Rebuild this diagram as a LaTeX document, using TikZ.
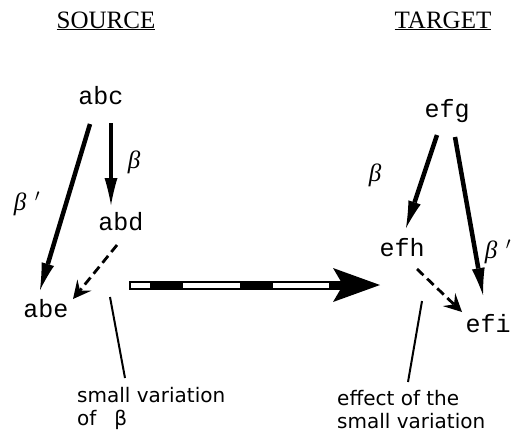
\documentclass[tikz,border=0pt]{standalone}
\usepackage{fontspec}
\setmainfont{Liberation Serif}
\setmonofont{Liberation Mono}
\setsansfont{DejaVu Sans}
\usepackage{tikz}
\usetikzlibrary{arrows.meta}
\tikzstyle{heading} = [font=\fontsize{25}{30}\selectfont, inner sep=0pt, anchor=base]
\tikzstyle{term} = [font=\ttfamily\fontsize{25}{30}\selectfont, inner sep=0pt, anchor=base]
\tikzstyle{remark} = [font=\sffamily\fontsize{20}{23}\selectfont, inner sep=0pt, anchor=north west, align=left]
\tikzstyle{greek} = [font=\itshape\fontsize{25}{28}\selectfont, inner sep=0pt]
\tikzstyle{map} = [line width=4.5pt, -{Latex[length=27pt,width=13pt,line width=0pt]}]
\tikzstyle{vary} = [line width=2.8pt, dash pattern=on 9pt off 5pt, -{Stealth[length=18pt,width=18pt,inset=7pt,line width=0pt]}]
\tikzstyle{pointer} = [line width=2pt]

\begin{document}
\begin{tikzpicture}[x=1pt, y=-1pt]
    \useasboundingbox (0,0) rectangle (514,432);

    % titles
    \node [heading] (source) at (106,28) {\underline{SOURCE}};
    \node [heading] (target) at (443,28) {\underline{TARGET}};

    % source side
    \node [term] (abc) at (101,104) {abc};
    \node [term] (abd) at (121,230) {abd};
    \node [term] (abe) at (46,317) {abe};
    \node [greek] (beta1) at (134,162) {β};
    \node [greek] (beta1p) at (27,204) {β\,\,$^{\prime}$};

    \draw [map] ([shift={(10,19)}]abc.base) -- ([shift={(-10,-25)}]abd.base);
    \draw [map] ([shift={(-11,20)}]abc.base) -- ([shift={(-6,-27)}]abe.base);
    \draw [vary] ([shift={(-4,15)}]abd.base) -- ([shift={(27,-18)}]abe.base);

    \node [remark] (smallvar) at (77,387) {small variation\\of\hspace{18pt}β};
    \coordinate (smallvartip) at (110,297);
    \draw [pointer] ([shift={(48,-9)}]smallvar.north west) -- (smallvartip);

    % target side
    \node [term] (efg) at (447,117) {efg};
    \node [term] (efh) at (402,256) {efh};
    \node [term] (efi) at (488,332) {efi};
    \node [greek] (beta2) at (375,175) {β};
    \node [greek] (beta2p) at (498,252) {β\,\,$^{\prime}$};

    \draw [map] ([shift={(-10,18)}]efg.base) -- ([shift={(4,-28)}]efh.base);
    \draw [map] ([shift={(8,20)}]efg.base) -- ([shift={(-5,-37)}]efi.base);
    \draw [vary] ([shift={(15,13)}]efh.base) -- ([shift={(-26,-20)}]efi.base);

    \node [remark] (effect) at (337,390) {effect of the\\small variation};
    \coordinate (effecttip) at (422,301);
    \draw [pointer] ([shift={(71,-8)}]effect.north west) -- (effecttip);

    % transfer arrow
    \coordinate (from) at (129,285);
    \coordinate (to) at (380,285);
    \draw [line width=9pt, -{Stealth[length=47pt,width=34pt,inset=10pt,line width=0pt]}] (from) -- (to);
    \draw [white, line width=5pt, shorten <=2pt, shorten >=51pt,
        dash pattern=on 19pt off 33pt on 57pt off 33pt on 57pt off 400pt] (from) -- (to);
\end{tikzpicture}
\end{document}
